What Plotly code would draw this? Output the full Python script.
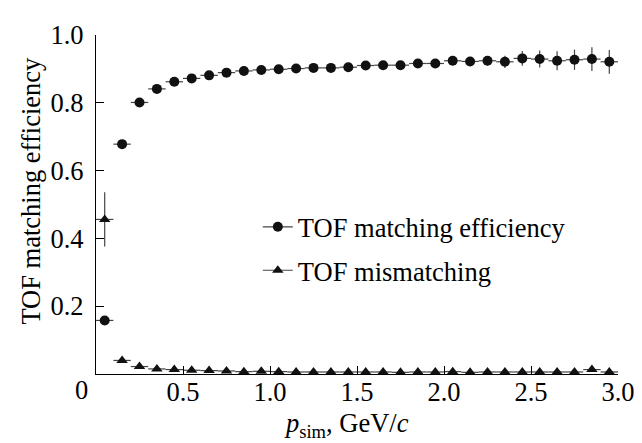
import plotly.graph_objects as go

# bin centres, GeV/c
p_sim = [0.05, 0.15, 0.25, 0.35, 0.45, 0.55, 0.65, 0.75, 0.85, 0.95,
         1.05, 1.15, 1.25, 1.35, 1.45, 1.55, 1.65, 1.75, 1.85, 1.95,
         2.05, 2.15, 2.25, 2.35, 2.45, 2.55, 2.65, 2.75, 2.85, 2.95]
half_bin = [0.05] * 30

eff = [0.158, 0.678, 0.801, 0.841, 0.862, 0.872, 0.881, 0.889, 0.894, 0.897,
       0.899, 0.901, 0.903, 0.903, 0.905, 0.910, 0.911, 0.911, 0.916, 0.916,
       0.924, 0.922, 0.924, 0.921, 0.931, 0.929, 0.924, 0.927, 0.929, 0.921]
eff_err = [0.008, 0.006, 0.005, 0.005, 0.005, 0.005, 0.005, 0.005, 0.006, 0.006,
           0.006, 0.007, 0.007, 0.008, 0.008, 0.009, 0.009, 0.010, 0.010, 0.011,
           0.013, 0.012, 0.014, 0.018, 0.022, 0.025, 0.028, 0.030, 0.035, 0.035]

mism = [0.456, 0.040, 0.022, 0.015, 0.013, 0.011, 0.010, 0.009, 0.007, 0.008,
        0.007, 0.006, 0.006, 0.006, 0.006, 0.006, 0.006, 0.005, 0.006, 0.006,
        0.007, 0.005, 0.006, 0.006, 0.006, 0.006, 0.006, 0.006, 0.013, 0.006]
mism_err = [0.080, 0.006, 0.004, 0.003, 0.003, 0.003, 0.003, 0.003, 0.003, 0.003,
            0.003, 0.003, 0.003, 0.003, 0.003, 0.003, 0.003, 0.003, 0.003, 0.003,
            0.003, 0.003, 0.003, 0.003, 0.003, 0.004, 0.004, 0.004, 0.005, 0.005]

x_tickvals = [0.5, 1.0, 1.5, 2.0, 2.5, 3.0]
x_ticktext = ["0.5", "1.0", "1.5", "2.0", "2.5", "3.0"]
y_tickvals = [0.2, 0.4, 0.6, 0.8, 1.0]
y_ticktext = ["0.2", "0.4", "0.6", "0.8", "1.0"]

names = ["TOF matching efficiency", "TOF mismatching"]
x_title = "<i>p</i><sub>sim</sub>, GeV/<i>c</i>"
y_title = "TOF matching efficiency"

FONT = "Liberation Serif"
FS = 26.5
MK = "#111111"
LN = "#444444"

fig = go.Figure()

fig.add_trace(go.Scatter(
    x=p_sim, y=eff, mode="markers", showlegend=False,
    marker=dict(symbol="circle", size=10, color=MK),
    error_x=dict(type="data", array=half_bin, color=LN, thickness=1.2, width=0),
    error_y=dict(type="data", array=eff_err, color=LN, thickness=1.2, width=0),
))
fig.add_trace(go.Scatter(
    x=p_sim, y=mism, mode="markers", showlegend=False,
    marker=dict(symbol="triangle-up", size=10, color=MK),
    error_x=dict(type="data", array=half_bin, color=LN, thickness=1.2, width=0),
    error_y=dict(type="data", array=mism_err, color=LN, thickness=1.2, width=0),
))

# legend entries styled like "—●—"
fig.add_trace(go.Scatter(
    x=[None], y=[None], mode="lines+markers", name=names[0], legendgroup="a",
    marker=dict(symbol="circle", size=10, color=MK),
    line=dict(color=LN, width=1.2),
))
fig.add_trace(go.Scatter(
    x=[None], y=[None], mode="lines+markers", name=names[1], legendgroup="b",
    marker=dict(symbol="triangle-up", size=10, color=MK),
    line=dict(color=LN, width=1.2),
))

fig.update_layout(
    width=642, height=443,
    margin=dict(l=88, r=32, t=16, b=77),
    paper_bgcolor="white", plot_bgcolor="white",
    font=dict(family=FONT, size=FS, color="black"),
    legend=dict(x=0.31, y=0.37, xanchor="left", yanchor="middle",
                bgcolor="rgba(0,0,0,0)", traceorder="grouped",
                tracegroupgap=6, font=dict(size=FS, family=FONT)),
    xaxis=dict(
        range=[0, 3.0], tickvals=x_tickvals, ticktext=x_ticktext,
        ticks="inside", ticklen=8, tickwidth=1.2, tickcolor="black",
        showline=True, linecolor="black", linewidth=1.3,
        showgrid=False, zeroline=False, ticklabelstandoff=-6,
    ),
    yaxis=dict(
        range=[0, 1.0], tickvals=y_tickvals, ticktext=y_ticktext,
        ticks="inside", ticklen=8, tickwidth=1.2, tickcolor="black",
        showline=True, linecolor="black", linewidth=1.3,
        showgrid=False, zeroline=False, ticklabelstandoff=6,
    ),
    annotations=[
        dict(text="0", xref="x", x=0, yref="paper", y=0, xshift=-15, yshift=-16,
             showarrow=False, xanchor="center", yanchor="middle",
             font=dict(size=FS, family=FONT, color="black")),
        dict(text=x_title, xref="paper", x=0.479, yref="paper", y=0,
             yshift=-69, showarrow=False, xanchor="center", yanchor="bottom",
             borderpad=0,
             font=dict(size=FS, family=FONT, color="black")),
        dict(text=y_title, xref="paper", x=-0.1245, yref="paper", y=0.541,
             textangle=-90, showarrow=False, xanchor="center", yanchor="middle",
             font=dict(size=FS, family=FONT, color="black")),
    ],
)

fig.write_html("out.html")
